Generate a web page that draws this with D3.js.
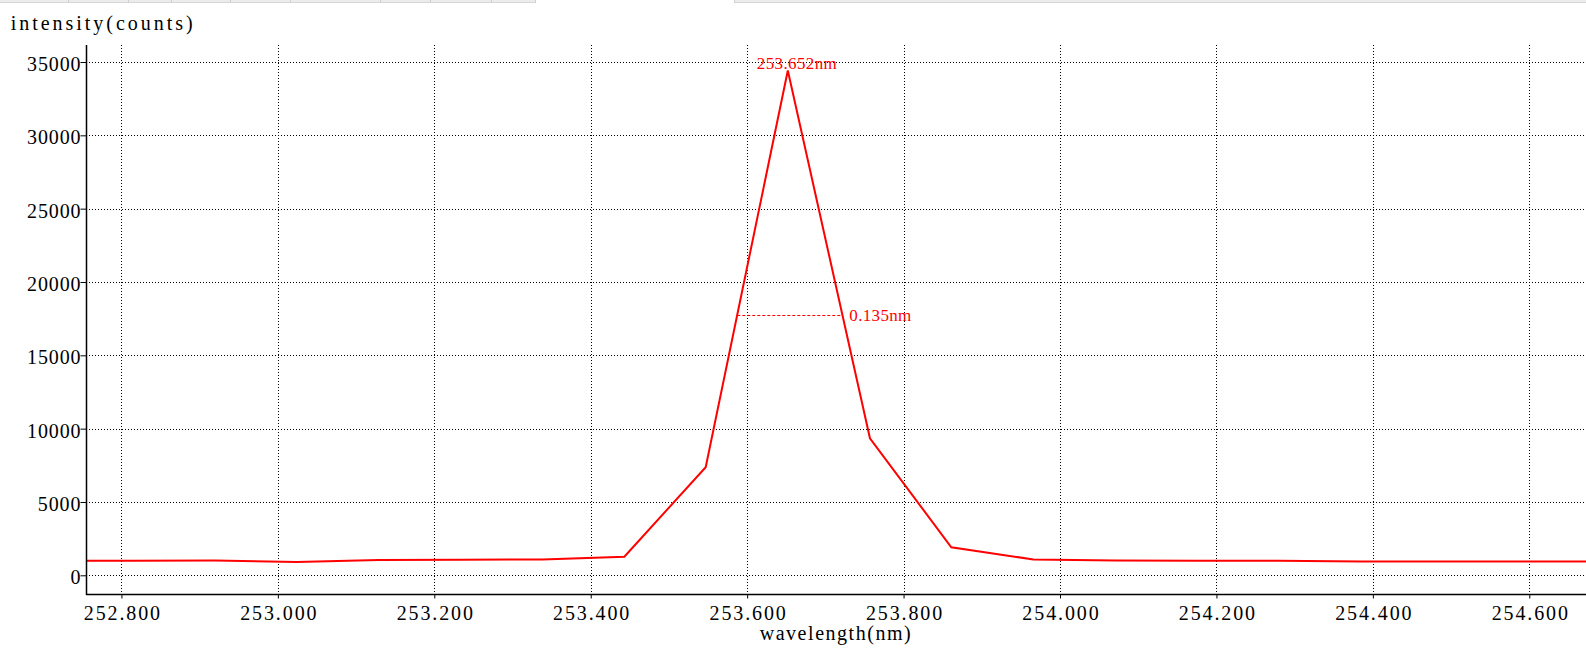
<!DOCTYPE html>
<html>
<head>
<meta charset="utf-8">
<script src="https://cdn.jsdelivr.net/npm/d3@7/dist/d3.min.js"></script>
<style>
  html, body { margin: 0; padding: 0; background: #fff; }
  svg { display: block; }
</style>
</head>
<body>
<svg id="chart" width="1586" height="650"></svg>
<script>
// ---- data ----
const wavelengths = [252.710, 252.814, 252.919, 253.024, 253.129, 253.233, 253.338, 253.443, 253.547, 253.652,
                     253.757, 253.861, 253.966, 254.071, 254.175, 254.280, 254.385, 254.490, 254.594, 254.699];
const intensities = [1000, 1000, 1005, 915, 1050, 1064, 1075, 1270, 7370, 34420,
                     9345, 1910, 1080, 1010, 1000, 1000, 945, 935, 940, 935];
const xTicks = [252.8, 253.0, 253.2, 253.4, 253.6, 253.8, 254.0, 254.2, 254.4, 254.6];
const yTicks = [0, 5000, 10000, 15000, 20000, 25000, 30000, 35000];
const peakLabel = "253.652nm";
const fwhmLabel = "0.135nm";
const fwhmLevel = 17780;
const yTitle = "intensity(counts)";
const xTitle = "wavelength(nm)";

(function () {
// ---- layout ----
const W = 1586, H = 650;
const pL = 86, pR = 1586, pT = 45, pB = 594;
const FONT = "'Liberation Serif', 'Times New Roman', serif";
const CH = 10.7; // per-character advance of the original font

const svg = d3.select("#chart");

// top UI strip (window tab bar remnant)
const strip = svg.append("g");
strip.append("rect").attr("x", 0).attr("y", 0).attr("width", 535).attr("height", 3).attr("fill", "#ececec");
strip.append("rect").attr("x", 734).attr("y", 0).attr("width", W - 734).attr("height", 3).attr("fill", "#ececec");
strip.append("line").attr("x1", 0).attr("x2", 535).attr("y1", 2.5).attr("y2", 2.5).attr("stroke", "#d6d6d6");
strip.append("line").attr("x1", 734).attr("x2", W).attr("y1", 2.5).attr("y2", 2.5).attr("stroke", "#d6d6d6");
[68, 128, 171, 230, 290, 380, 430, 491, 535, 734].forEach(sx => {
  strip.append("line").attr("x1", sx + 0.5).attr("x2", sx + 0.5).attr("y1", 0).attr("y2", 3).attr("stroke", "#d0d0d0");
});

const x = d3.scaleLinear().domain([252.7547, 254.6725]).range([pL, pR]);
const y = d3.scaleLinear().domain([-1275, 36160]).range([pB, pT]);

// ---- grid ----
const grid = svg.append("g");
grid.selectAll("line.h").data(yTicks).enter().append("line")
  .attr("x1", pL).attr("x2", pR)
  .attr("y1", d => Math.round(y(d)) + 0.5).attr("y2", d => Math.round(y(d)) + 0.5)
  .attr("stroke", "#000").attr("stroke-width", 1).attr("stroke-dasharray", "1,2");
grid.selectAll("line.v").data(xTicks).enter().append("line")
  .attr("x1", d => Math.round(x(d)) + 0.5).attr("x2", d => Math.round(x(d)) + 0.5)
  .attr("y1", pT).attr("y2", pB)
  .attr("stroke", "#000").attr("stroke-width", 1).attr("stroke-dasharray", "1,2");

// ---- series ----
svg.append("clipPath").attr("id", "plotclip").append("rect")
  .attr("x", pL).attr("y", pT - 10).attr("width", pR - pL).attr("height", pB - pT + 10);

const pts = wavelengths.map((w, i) => ({ w, v: intensities[i] }));
const line = d3.line().x(d => x(d.w)).y(d => y(d.v));
svg.append("path").datum(pts)
  .attr("clip-path", "url(#plotclip)")
  .attr("d", line)
  .attr("fill", "none").attr("stroke", "#ff0000").attr("stroke-width", 2)
  .attr("stroke-linejoin", "miter");

// ---- FWHM marker (interpolated crossings of the half level) ----
const pk = d3.maxIndex(intensities);
function crossing(i0, i1) {
  const t = (fwhmLevel - intensities[i0]) / (intensities[i1] - intensities[i0]);
  return wavelengths[i0] + t * (wavelengths[i1] - wavelengths[i0]);
}
let li = pk; while (li > 0 && intensities[li - 1] > fwhmLevel) li--;
let ri = pk; while (ri < intensities.length - 1 && intensities[ri + 1] > fwhmLevel) ri++;
const wL = crossing(li - 1, li), wR = crossing(ri, ri + 1);
svg.append("line")
  .attr("x1", x(wL)).attr("x2", x(wR))
  .attr("y1", Math.round(y(fwhmLevel)) + 0.5).attr("y2", Math.round(y(fwhmLevel)) + 0.5)
  .attr("stroke", "#ff0000").attr("stroke-width", 1).attr("stroke-dasharray", "3,2");
svg.append("text")
  .attr("x", x(wR) + 7).attr("y", y(fwhmLevel) + 6)
  .attr("font-family", FONT).attr("font-size", 17).attr("fill", "#ff0000")
  .attr("textLength", 62).attr("lengthAdjust", "spacing")
  .text(fwhmLabel);

// peak label
svg.append("text")
  .attr("x", x(wavelengths[pk]) - 31).attr("y", y(intensities[pk]) - 2)
  .attr("font-family", FONT).attr("font-size", 17).attr("fill", "#ff0000")
  .attr("textLength", 80).attr("lengthAdjust", "spacing")
  .text(peakLabel);

// ---- axes ----
const yAxis = d3.axisLeft(y).tickValues(yTicks).tickFormat(d3.format("d"))
  .tickSize(6).tickSizeOuter(0).tickPadding(0);
const gy = svg.append("g").attr("transform", `translate(${pL + 0.5},0)`).call(yAxis);
gy.select(".domain").remove();
gy.selectAll(".tick line").attr("stroke", "#000");
gy.selectAll(".tick text")
  .attr("font-family", FONT).attr("font-size", 20).attr("fill", "#000")
  .attr("dy", "8.5px")
  .each(function(d) {
    const s = d3.format("d")(d);
    if (s.length > 1) d3.select(this).attr("textLength", s.length * CH).attr("lengthAdjust", "spacing");
  });

const xAxis = d3.axisBottom(x).tickValues(xTicks).tickFormat(d3.format(".3f"))
  .tickSize(4).tickSizeOuter(0);
const gx = svg.append("g").attr("transform", `translate(0,${pB + 0.5})`).call(xAxis);
gx.select(".domain").remove();
gx.selectAll(".tick line").attr("stroke", "#000");
gx.selectAll(".tick text")
  .attr("font-family", FONT).attr("font-size", 20).attr("fill", "#000")
  .attr("y", 25).attr("dy", 0)
  .attr("textLength", 7 * 10.9).attr("lengthAdjust", "spacing");

// axis lines
svg.append("line").attr("x1", pL + 0.5).attr("x2", pL + 0.5).attr("y1", pT).attr("y2", pB + 1)
  .attr("stroke", "#000").attr("stroke-width", 1.5);
svg.append("line").attr("x1", pL).attr("x2", pR).attr("y1", pB + 0.5).attr("y2", pB + 0.5)
  .attr("stroke", "#000").attr("stroke-width", 1.5);

// ---- titles ----
svg.append("text").attr("x", 10.7).attr("y", 30)
  .attr("font-family", FONT).attr("font-size", 20).attr("fill", "#000")
  .attr("textLength", 182).attr("lengthAdjust", "spacing")
  .text(yTitle);
svg.append("text").attr("x", 759.7).attr("y", 640)
  .attr("font-family", FONT).attr("font-size", 20).attr("fill", "#000")
  .attr("textLength", 151).attr("lengthAdjust", "spacing")
  .text(xTitle);
})();
</script>
</body>
</html>
